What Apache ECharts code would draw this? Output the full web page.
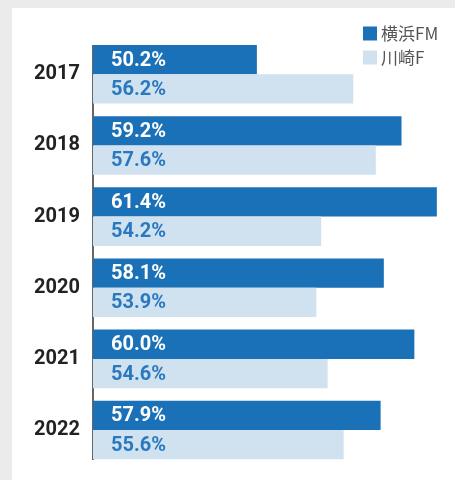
<!DOCTYPE html>
<html>
<head>
<meta charset="utf-8">
<script src="https://cdn.jsdelivr.net/npm/echarts@6/dist/echarts.min.js"></script>
<style>
  html, body { margin: 0; padding: 0; }
  body { width: 455px; height: 480px; background: #ebebeb; position: relative; overflow: hidden; }
  #chart { position: absolute; left: 12px; top: 8px; width: 443px; height: 472px; background: #ffffff; }
</style>
</head>
<body>
<div id="chart"></div>
<script>
// Seasons shown on the category axis
const years = ['2017', '2018', '2019', '2020', '2021', '2022'];
// Series names
const seriesNames = ['横浜FM', '川崎F'];
// Percentages per season
const yokohamaValues = [50.2, 59.2, 61.4, 58.1, 60.0, 57.9];
const kawasakiValues = [56.2, 57.6, 54.2, 53.9, 54.6, 55.6];

const DARK = '#1b71b7';
const LIGHT = '#d0e1f0';
const LABEL_FONT = 'Roboto, "Noto Sans", sans-serif';

const chart = echarts.init(document.getElementById('chart'), null, { renderer: 'canvas' });

const GRID = { left: 81, right: 8.5, top: 30.7, height: 426.9 };

function barLabel(color) {
  return {
    show: true,
    position: 'insideLeft',
    distance: 18,
    offset: [0, 1],
    color: color,
    fontFamily: LABEL_FONT,
    fontWeight: 'bold',
    fontSize: 20,
    formatter: p => p.value.toFixed(1) + '%'
  };
}

chart.setOption({
  animation: false,
  backgroundColor: '#ffffff',
  legend: {
    orient: 'vertical',
    left: 351,
    top: 17,
    padding: 0,
    itemWidth: 14,
    itemHeight: 14,
    itemGap: 7,
    icon: 'rect',
    textStyle: { color: '#555555', fontSize: 17, fontFamily: '"Noto Sans CJK JP", sans-serif', padding: [0, 0, 0, -1] },
    data: seriesNames
  },
  grid: GRID,
  xAxis: {
    type: 'value',
    min: 40,
    max: 62,
    show: false
  },
  yAxis: {
    type: 'category',
    inverse: true,
    data: years,
    axisLine: { show: false },
    axisTick: { show: false },
    axisLabel: {
      margin: 13,
      color: '#222222',
      fontFamily: LABEL_FONT,
      fontWeight: 'bold',
      fontSize: 20
    }
  },
  graphic: [{
    type: 'line',
    shape: { x1: 81, y1: 37, x2: 81, y2: 452 },
    style: { stroke: '#333333', lineWidth: 1.5 },
    silent: true
  }],
  series: [
    {
      name: seriesNames[0],
      type: 'bar',
      data: yokohamaValues,
      barWidth: 29.3,
      barGap: '0%',
      itemStyle: { color: DARK },
      label: barLabel('#ffffff')
    },
    {
      name: seriesNames[1],
      type: 'bar',
      data: kawasakiValues,
      barWidth: 29.3,
      barGap: '0%',
      itemStyle: { color: LIGHT },
      label: barLabel('#2a79bf')
    }
  ]
});
</script>
</body>
</html>
